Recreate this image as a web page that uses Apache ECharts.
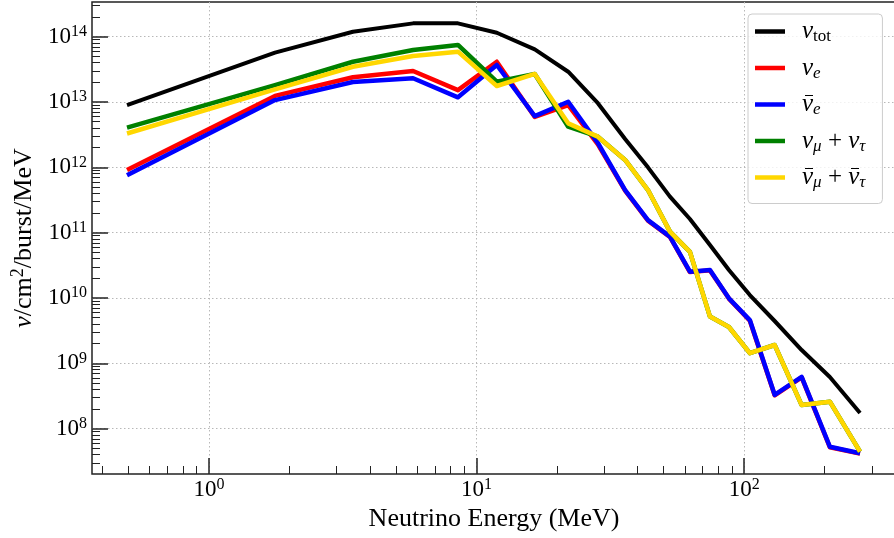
<!DOCTYPE html>
<html>
<head>
<meta charset="utf-8">
<script src="https://cdn.jsdelivr.net/npm/echarts@6/dist/echarts.min.js"></script>
<style>
  html, body { margin: 0; padding: 0; background: #ffffff; }
  #chart { width: 894px; height: 538px; }
</style>
</head>
<body>
<div id="chart"></div>
<script>
// Neutrino energy bins (MeV)
const energy = [0.494, 1.765, 3.45, 5.79, 8.52, 11.9, 16.5, 22.0, 28.4, 35.9,
                43.7, 52.8, 62.7, 74.5, 87.7, 105, 130, 164, 209, 271];

// Fluence per flavour (nu / cm^2 / burst / MeV)
const nuTot = [9.0e12, 5.7e13, 1.19e14, 1.60e14, 1.60e14, 1.15e14, 6.4e13, 2.91e13, 9.6e12, 2.72e12,
               1.0e12, 3.56e11, 1.62e11, 6.5e10, 2.69e10, 1.11e10, 4.45e9, 1.6e9, 6.2e8, 1.74e8];
const nuE = [9.1e11, 1.24e13, 2.39e13, 2.99e13, 1.52e13, 4.14e13, 5.9e12, 9.0e12, 2.25e12, 4.4e11,
             1.53e11, 8.6e10, 2.5e10, 2.65e10, 9.8e9, 4.5e9, 3.25e8, 6.1e8, 5.2e7, 4.15e7];
const nuEBar = [7.6e11, 1.07e13, 2.03e13, 2.31e13, 1.18e13, 3.69e13, 6.1e12, 1.01e13, 2.36e12, 4.5e11,
                1.56e11, 8.7e10, 2.53e10, 2.69e10, 9.9e9, 4.6e9, 3.3e8, 6.2e8, 5.3e7, 4.2e7];
const nuMuTau = [4.05e12, 1.82e13, 4.14e13, 6.25e13, 7.47e13, 2.05e13, 2.69e13, 4.19e12, 2.95e12, 1.30e12,
                 4.5e11, 1.04e11, 5.1e10, 5.2e9, 3.6e9, 1.43e9, 1.91e9, 2.3e8, 2.59e8, 4.45e7];
const nuMuTauBar = [3.3e12, 1.56e13, 3.47e13, 5.07e13, 5.9e13, 1.76e13, 2.69e13, 4.72e12, 2.95e12, 1.30e12,
                    4.5e11, 1.04e11, 5.1e10, 5.2e9, 3.6e9, 1.43e9, 1.91e9, 2.3e8, 2.59e8, 4.45e7];

// Axis ranges and major ticks
const xRange = [0.3655, 369.3];
const yRange = [2.026e7, 3.397e14];
const xMajorTicks = [1, 10, 100];
const yMajorTicks = [1e8, 1e9, 1e10, 1e11, 1e12, 1e13, 1e14];

const seriesNames = ['ν_tot', 'ν_e', 'anti ν_e', 'ν_μ + ν_τ', 'anti ν_μ + anti ν_τ'];
const seriesColors = ['#000000', '#ff0000', '#0000ff', '#008000', '#ffd700'];
const seriesValues = [nuTot, nuE, nuEBar, nuMuTau, nuMuTauBar];

// Legend entries typeset as rich text ({a|ν} is the barred antineutrino symbol)
const legendText = {
  'ν_tot': '{n|ν}{r|tot}',
  'ν_e': '{n|ν}{i|e}',
  'anti ν_e': '{a|ν}{i|e}',
  'ν_μ + ν_τ': '{n|ν}{i|μ}{p| + }{n|ν}{i|τ}',
  'anti ν_μ + anti ν_τ': '{a|ν}{i|μ}{p| + }{a|ν}{i|τ}'
};

const FONT = 'Liberation Serif';

// bar drawn behind the antineutrino glyph (stretched over the glyph box)
function overlineBar() {
  const c = document.createElement('canvas');
  c.width = 48; c.height = 112;
  const g = c.getContext('2d');
  g.fillStyle = '#000';
  g.fillRect(13, 12, 33, 6);
  return c;
}

// minor ticks at 2..9 x 10^k inside the range
function minorTicks(range) {
  const out = [];
  const lo = Math.floor(Math.log10(range[0]));
  const hi = Math.ceil(Math.log10(range[1]));
  for (let e = lo; e <= hi; e++) {
    for (let m = 2; m <= 9; m++) {
      const v = m * Math.pow(10, e);
      if (v > range[0] && v < range[1]) out.push(v);
    }
  }
  return out;
}

const powLabel = v => '{b|10}{s|' + Math.round(Math.log10(v)) + '}';
const labelRich = {
  b: { fontFamily: FONT, fontSize: 23, lineHeight: 26, color: '#000' },
  s: { fontFamily: FONT, fontSize: 16, lineHeight: 14, verticalAlign: 'top', color: '#000' }
};
const gridLine = { show: true, lineStyle: { color: '#b8b8b8', width: 1, type: [1.5, 2.5] } };
const majorTickStyle = { color: '#222', width: 1.5 };
const minorTickStyle = { color: '#222', width: 1 };

const chart = echarts.init(document.getElementById('chart'), null, { renderer: 'canvas' });

chart.setOption({
  animation: false,
  backgroundColor: '#ffffff',
  grid: {
    left: 92, right: -2, top: 2, bottom: 64,
    show: true, borderColor: '#222', borderWidth: 1.5,
    outerBoundsMode: 'none'
  },
  xAxis: [
    {
      type: 'log', min: xRange[0], max: xRange[1], position: 'bottom',
      axisLine: { show: false },
      axisTick: { inside: true, length: 16, customValues: xMajorTicks, lineStyle: majorTickStyle },
      axisLabel: { customValues: xMajorTicks, margin: 3, formatter: powLabel, rich: labelRich },
      splitLine: gridLine,
      name: 'Neutrino Energy (MeV)', nameLocation: 'middle', nameGap: 31,
      nameTextStyle: { fontFamily: FONT, fontSize: 26, color: '#000' }
    },
    {
      type: 'log', min: xRange[0], max: xRange[1], position: 'bottom',
      axisLine: { show: false }, axisLabel: { show: false }, splitLine: { show: false },
      axisTick: { inside: true, length: 8, customValues: minorTicks(xRange), lineStyle: minorTickStyle }
    }
  ],
  yAxis: [
    {
      type: 'log', min: yRange[0], max: yRange[1], position: 'left',
      axisLine: { show: false },
      axisTick: { inside: true, length: 16, customValues: yMajorTicks, lineStyle: majorTickStyle },
      axisLabel: { customValues: yMajorTicks, margin: 5, formatter: powLabel, rich: labelRich },
      splitLine: gridLine,
      name: '{n|ν}{t|/cm}{s|2}{t|/burst/MeV}', nameLocation: 'middle', nameGap: 52, nameRotate: 90,
      nameTextStyle: {
        rich: {
          n: { fontFamily: FONT, fontStyle: 'italic', fontSize: 26, lineHeight: 30, color: '#000' },
          t: { fontFamily: FONT, fontSize: 26, lineHeight: 30, color: '#000' },
          s: { fontFamily: FONT, fontSize: 18, lineHeight: 16, verticalAlign: 'top', color: '#000' }
        }
      }
    },
    {
      type: 'log', min: yRange[0], max: yRange[1], position: 'left',
      axisLine: { show: false }, axisLabel: { show: false }, splitLine: { show: false },
      axisTick: { inside: true, length: 8, customValues: minorTicks(yRange), lineStyle: minorTickStyle }
    }
  ],
  legend: {
    data: seriesNames,
    orient: 'vertical', left: 748, top: 14, align: 'left',
    icon: 'rect', itemWidth: 30, itemHeight: 4.5, itemGap: 10,
    padding: [5, 17, 12, 7],
    backgroundColor: 'rgba(255,255,255,0.8)',
    borderColor: '#cccccc', borderWidth: 1, borderRadius: 4,
    formatter: name => legendText[name],
    textStyle: {
      padding: [0, 0, 0, 12],
      rich: {
        n: { fontFamily: FONT, fontStyle: 'italic', fontSize: 25, lineHeight: 28, color: '#000' },
        a: { fontFamily: FONT, fontStyle: 'italic', fontSize: 25, lineHeight: 28, color: '#000',
             backgroundColor: { image: overlineBar() } },
        p: { fontFamily: FONT, fontSize: 25, lineHeight: 28, color: '#000' },
        r: { fontFamily: FONT, fontSize: 17, lineHeight: 12, verticalAlign: 'bottom', color: '#000' },
        i: { fontFamily: FONT, fontStyle: 'italic', fontSize: 17, lineHeight: 12, verticalAlign: 'bottom', color: '#000' }
      }
    }
  },
  series: seriesValues.map((vals, i) => ({
    name: seriesNames[i],
    type: 'line',
    xAxisIndex: 0, yAxisIndex: 0,
    data: energy.map((e, j) => [e, vals[j]]),
    symbol: 'none',
    z: 2 + i,
    color: seriesColors[i],
    lineStyle: { color: seriesColors[i], width: i === 0 ? 4 : 4.5, join: 'round', cap: 'butt' }
  }))
});
</script>
</body>
</html>
